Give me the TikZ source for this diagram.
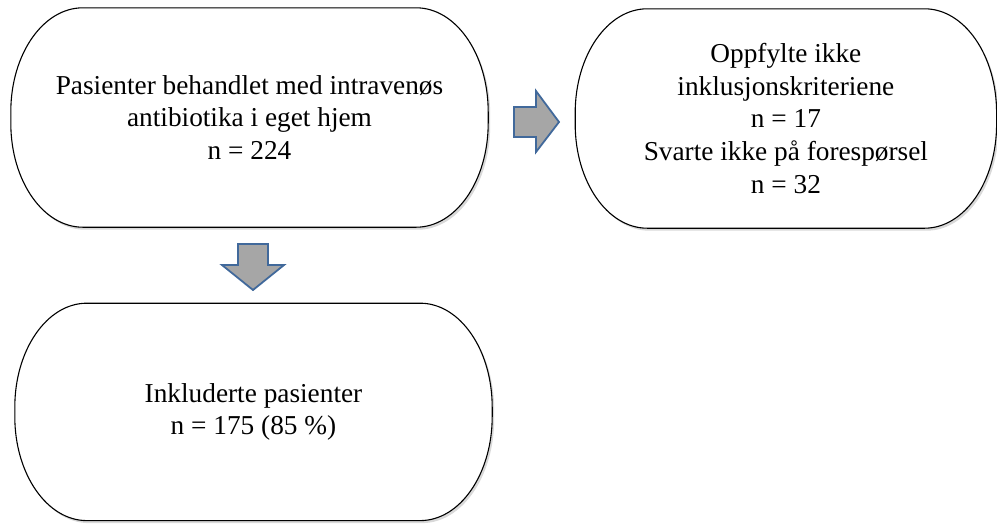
\documentclass[tikz,border=0pt]{standalone}
\usepackage{fontspec}
\setmainfont{Liberation Serif}
\usetikzlibrary{positioning, shadows, backgrounds}

\definecolor{arrowblue}{RGB}{65,105,155}
\definecolor{arrowgray}{RGB}{166,166,166}

% outline with flat top and bottom and curved sides, round a node
\newcommand{\stadium}[1]{%
  \draw[outline] ([xshift=72pt]#1.north west) -- ([xshift=-72pt]#1.north east)
    arc[start angle=90, end angle=0, x radius=72pt, y radius=104pt]
    -- ([yshift=104pt]#1.south east)
    arc[start angle=0, end angle=-90, x radius=72pt, y radius=104pt]
    -- ([xshift=72pt]#1.south west)
    arc[start angle=270, end angle=180, x radius=72pt, y radius=104pt]
    -- ([yshift=-104pt]#1.north west)
    arc[start angle=180, end angle=90, x radius=72pt, y radius=104pt]
    -- cycle;}

\begin{document}
\begin{tikzpicture}[
    x=1pt, y=1pt,
    font=\fontsize{27.3}{32.8}\selectfont,
    box/.style={
      align=center,
      inner sep=0pt,
      minimum width=477pt,
      minimum height=219pt
    },
    outline/.style={
      draw=black,
      line width=1.1pt,
      fill=white,
      drop shadow={shadow xshift=2pt, shadow yshift=-2.5pt, opacity=0.3}
    },
    blockarrow/.style={
      draw=arrowblue,
      fill=arrowgray,
      line width=1.8pt,
      line join=miter
    }
  ]

    \useasboundingbox (0,0) rectangle (997,-523);

    % Boxes
    \node[box] (treated) at (249.5,-117.5)
      {Pasienter behandlet med intravenøs\\antibiotika i eget hjem\\n = 224};
    \node[box, minimum width=421pt, right=87pt of treated, yshift=-1pt] (excluded)
      {Oppfylte ikke\\inklusjonskriteriene\\n = 17\\Svarte ikke på forespørsel\\n = 32};
    \node[box, minimum height=217pt, below=76pt of treated, xshift=4pt] (included)
      {Inkluderte pasienter\\n = 175 (85 \%)};

    \begin{scope}[on background layer]
      \stadium{treated}
      \stadium{excluded}
      \stadium{included}
    \end{scope}

    % Block arrows
    \draw[blockarrow] (514,-107) -- (536,-107) -- (536,-91) -- (559,-122)
      -- (536,-152) -- (536,-137) -- (514,-137) -- cycle;
    \draw[blockarrow] (238,-244) -- (268,-244) -- (268,-265) -- (284,-265)
      -- (253,-290) -- (222,-265) -- (238,-265) -- cycle;

  \end{tikzpicture}
\end{document}
